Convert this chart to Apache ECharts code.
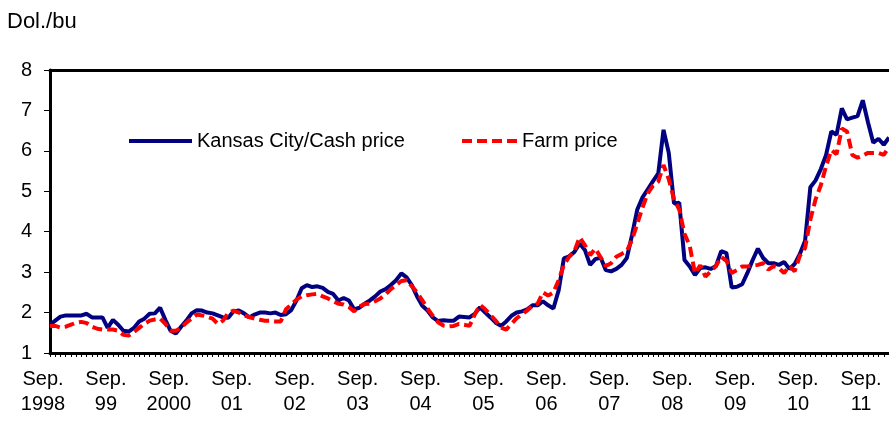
<!DOCTYPE html>
<html>
<head>
<meta charset="utf-8">
<script src="https://cdn.jsdelivr.net/npm/echarts@6/dist/echarts.min.js"></script>
<style>
  html, body { margin: 0; padding: 0; background: #fff; }
  #myChart { width: 889px; height: 425px; }
</style>
</head>
<body>
<div id="myChart"></div>
<script>
// monthly, Sep 1998 .. Jan 2012
let yearLabels = ['1998', '99', '2000', '01', '02', '03', '04', '05', '06', '07', '08', '09', '10', '11']
let cashPrice = [
  1.70, 1.80, 1.90, 1.93, 1.93, 1.93, 1.93, 1.97, 1.88, 1.88, 1.88, 1.62,
  1.82, 1.70, 1.55, 1.53, 1.62, 1.78, 1.85, 1.97, 1.98, 2.12, 1.82, 1.55,
  1.48, 1.65, 1.80, 1.98, 2.06, 2.05, 2.00, 1.98, 1.93, 1.88, 1.87, 2.03,
  2.05, 1.98, 1.88, 1.95, 2.00, 2.00, 1.98, 2.00, 1.94, 1.96, 2.06, 2.30,
  2.60, 2.68, 2.63, 2.65, 2.61, 2.51, 2.46, 2.30, 2.36, 2.30, 2.08, 2.12,
  2.22, 2.30, 2.40, 2.52, 2.58, 2.68, 2.80, 2.97, 2.87, 2.68, 2.40, 2.17,
  2.05, 1.88, 1.79, 1.81, 1.80, 1.80, 1.90, 1.89, 1.88, 1.97, 2.13, 2.00,
  1.88, 1.75, 1.67, 1.78, 1.92, 2.00, 2.03, 2.08, 2.18, 2.18, 2.28, 2.18,
  2.10, 2.55, 3.34, 3.39, 3.50, 3.71, 3.55, 3.18, 3.32, 3.36, 3.05, 3.02,
  3.08, 3.18, 3.35, 3.92, 4.55, 4.85, 5.05, 5.25, 5.44, 6.52, 5.95, 4.70,
  4.72, 3.30, 3.14, 2.93, 3.10, 3.12, 3.08, 3.15, 3.52, 3.47, 2.62, 2.64,
  2.70, 2.98, 3.30, 3.58, 3.35, 3.22, 3.22, 3.18, 3.25, 3.08, 3.20, 3.45,
  3.78, 5.10, 5.27, 5.55, 5.90, 6.48, 6.40, 7.05, 6.78, 6.82, 6.86, 7.25,
  6.70, 6.20, 6.30, 6.15, 6.33
]
let farmPrice = [
  1.67, 1.67, 1.63, 1.65, 1.70, 1.75, 1.77, 1.74, 1.65, 1.60, 1.58, 1.58,
  1.58, 1.55, 1.45, 1.43, 1.52, 1.62, 1.72, 1.80, 1.83, 1.85, 1.72, 1.55,
  1.55, 1.62, 1.75, 1.85, 1.95, 1.93, 1.90, 1.85, 1.72, 1.80, 2.00, 2.05,
  2.00, 1.93, 1.89, 1.85, 1.82, 1.80, 1.80, 1.78, 1.78, 2.08, 2.20, 2.32,
  2.40, 2.43, 2.45, 2.46, 2.40, 2.35, 2.28, 2.22, 2.20, 2.14, 2.03, 2.15,
  2.21, 2.22, 2.28, 2.35, 2.45, 2.58, 2.68, 2.78, 2.80, 2.65, 2.50, 2.30,
  2.10, 1.92, 1.76, 1.68, 1.66, 1.67, 1.72, 1.70, 1.67, 1.95, 2.19, 2.08,
  1.94, 1.80, 1.63, 1.58, 1.72, 1.86, 1.96, 2.05, 2.17, 2.22, 2.50, 2.42,
  2.50, 2.80, 3.18, 3.38, 3.52, 3.86, 3.67, 3.42, 3.58, 3.37, 3.15, 3.22,
  3.38, 3.45, 3.52, 3.80, 4.20, 4.60, 4.95, 5.14, 5.24, 5.65, 5.30, 4.80,
  4.55, 3.95, 3.65, 2.97, 3.17, 2.89, 3.02, 3.15, 3.38, 3.28, 2.98, 3.05,
  3.14, 3.14, 3.16, 3.18, 3.22, 3.06, 3.15, 3.10, 2.98, 3.15, 3.02, 3.40,
  3.60, 4.30, 4.80, 5.15, 5.62, 6.02, 5.92, 6.55, 6.48, 5.90, 5.83, 5.88,
  5.95, 5.95, 5.95, 5.90, 6.10
]

let categories = []
for (let i = 0; i < cashPrice.length; i++) {
  // label only the Sep. months
  categories.push(i % 12 === 0 ? 'Sep.\n' + yearLabels[i / 12] : '')
}

let myChart = echarts.init(document.getElementById('myChart'))
let font = 'Liberation Sans, Arial, sans-serif'

let legendBase = {
  top: 131,
  padding: 0,
  itemHeight: 14,
  itemStyle: { opacity: 0 },
  lineStyle: { width: 4 },
  textStyle: { fontSize: 20, color: '#000', fontFamily: font }
}

let option = {
  animation: false,
  textStyle: { fontFamily: font },
  title: {
    text: 'Dol./bu',
    left: 2,
    top: 6,
    textStyle: { fontSize: 22, fontWeight: 'normal', color: '#000', fontFamily: font }
  },
  legend: [
    Object.assign({}, legendBase, { left: 127, itemWidth: 63, data: ['Kansas City/Cash price'] }),
    Object.assign({}, legendBase, { left: 460, itemWidth: 55, data: ['Farm price'] })
  ],
  grid: {
    left: 50,
    right: 0,
    top: 70,
    bottom: 72,
    outerBoundsMode: 'none'
  },
  xAxis: [
    {
      type: 'category',
      boundaryGap: false,
      data: categories,
      axisLine: { lineStyle: { color: '#000', width: 3 } },
      axisTick: {
        interval: 0,
        length: 4,
        lineStyle: { color: '#000', width: 1 }
      },
      axisLabel: {
        interval: function (index) {
          return index % 12 === 0
        },
        fontSize: 20,
        lineHeight: 25,
        color: '#000',
        margin: 14,
        padding: [0, 14, 0, 0],
        fontFamily: font
      },
      splitLine: { show: false }
    },
    {
      type: 'category',
      position: 'top',
      boundaryGap: false,
      data: categories,
      axisLine: { lineStyle: { color: '#000', width: 3 } },
      axisTick: { show: false },
      axisLabel: { show: false }
    }
  ],
  yAxis: {
    type: 'value',
    min: 1,
    max: 8,
    interval: 1,
    axisLine: { show: true, lineStyle: { color: '#000', width: 3 } },
    axisTick: { show: true, length: 6, lineStyle: { color: '#000', width: 1 } },
    axisLabel: { fontSize: 20, color: '#000', margin: 18, fontFamily: font },
    splitLine: { show: false }
  },
  series: [
    {
      name: 'Kansas City/Cash price',
      type: 'line',
      symbol: 'none',
      data: cashPrice,
      color: '#000080',
      lineStyle: { color: '#000080', width: 4 },
      z: 3
    },
    {
      name: 'Farm price',
      type: 'line',
      symbol: 'none',
      data: farmPrice,
      color: '#ff0000',
      lineStyle: { color: '#ff0000', width: 4, type: [10, 5] },
      z: 4
    }
  ]
}
myChart.setOption(option, true)
</script>
</body>
</html>
